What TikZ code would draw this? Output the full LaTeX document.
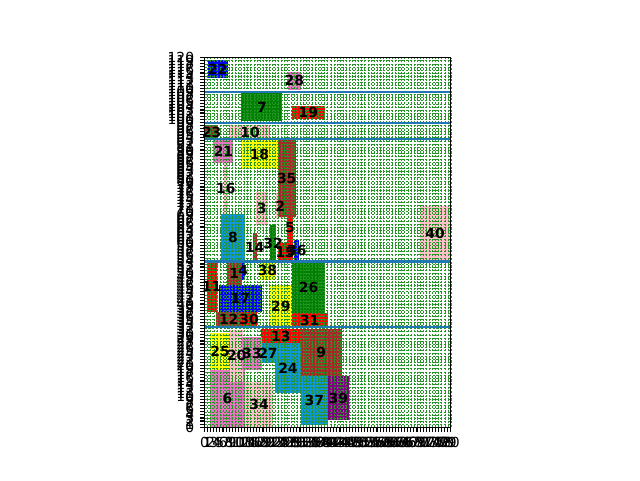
\documentclass[tikz,border=0pt]{standalone}
\usepackage{fontspec}
\setmainfont{DejaVu Sans}
\definecolor{hemelblauw}{RGB}{17,152,212}
\definecolor{roze}{HTML}{E377C2}
\definecolor{lichtroze}{HTML}{FFC0CB}
\definecolor{bruin}{HTML}{A52A2A}
\definecolor{groen}{HTML}{008000}
\definecolor{blauw}{HTML}{0000FF}
\definecolor{rood}{HTML}{FF0000}
\definecolor{geel}{HTML}{FFFF00}
\definecolor{paars}{HTML}{800080}
\definecolor{lijnblauw}{HTML}{1F77B4}
\tikzset{
  raster/.style={groen!85, line width=0.45pt, dash pattern=on 2.2pt off 1.6pt},
  niveau/.style={lijnblauw, line width=2.1pt},
  nummer/.style={font=\bfseries\fontsize{13.9}{14}\selectfont, inner sep=0pt},
  tekje/.style={line width=1.1pt},
  asgetal/.style={font=\fontsize{13.9}{14}\selectfont, inner sep=0pt}
}
% blokken: x1/y1/x2/y2/kleur/nummer
\def\blokken{1.8/0/13.1/18.6/roze/6, 13.1/0/22.3/14.8/lichtroze/34,
  31.3/0.7/40/16.7/hemelblauw/37, 40/2.3/46.9/16.7/paars/39,
  31.3/16.7/44.5/31.9/bruin/9, 22.9/11/31.3/27.2/hemelblauw/24,
  18.3/20.7/22.9/27.2/hemelblauw/27, 18.3/27.2/31.3/32/rood/13,
  1.8/18.6/8.3/30.7/geel/25, 8.3/14.8/12.6/31.6/lichtroze/20,
  12.1/18.6/18.6/29.4/roze/33,
  3.6/32.4/12.1/37.5/bruin/12, 12.1/32.4/16.9/37.5/rood/30,
  28.3/32.4/40/37/rood/31, 21.3/32.4/28.3/46.2/geel/29,
  4.7/37.5/18.6/46.2/blauw/17, 0.7/37.5/4/53.7/rood/11,
  7.2/46.2/12.1/53.7/bruin/1, 12.1/47.8/13.1/53.7/blauw/4,
  18/47.8/22.9/53.7/geel/38, 28.5/37/39.1/53.7/groen/26,
  5.4/53.7/13.1/69.2/hemelblauw/8, 6.4/69.2/7.5/85.7/lichtroze/16,
  15.6/53.7/17/63/bruin/14, 16.7/65.6/20.5/76.5/lichtroze/3,
  21.3/53.7/23.2/65.6/groen/32, 23.2/67.8/25.9/75.9/lichtroze/2,
  23.8/53.7/28.6/59.7/rood/15, 26.9/59.7/28.6/70.2/rood/5,
  29.2/53.7/30.7/60.8/blauw/36, 23.8/68.3/29.6/93.2/bruin/35,
  11.9/83.8/23.8/93.2/geel/18, 2.9/85.7/9.4/93.2/roze/21,
  70/53.7/79.7/71.8/lichtroze/40,
  0.2/93.5/4.5/98.1/bruin/23, 8.3/93.5/21.3/98.1/lichtroze/10,
  12/99.5/25.3/108.4/groen/7, 28.3/100/39.1/104.4/rood/19,
  1/113.3/7.5/119.2/blauw/22, 27/109.5/31.3/115.4/roze/28}
\begin{document}
\begin{tikzpicture}[x=1pt,y=1pt]
  \useasboundingbox (0,0) rectangle (640,480);
  \begin{scope}[shift={(204.5pt,52.8pt)}, x=3.08pt, y=3.08pt]
    % Blokken
    \foreach \xa/\ya/\xb/\yb/\kl/\nr in \blokken {
      \fill[\kl] (\xa,\ya) rectangle (\xb,\yb);
    }
    % Raster
    \foreach \i in {0,...,80} \draw[raster] (\i,0) -- (\i,120);
    \foreach \j in {0,...,120} \draw[raster] (0,\j) -- (80,\j);
    % Niveaus
    \foreach \h in {32.4,53.8,93.5,98.9,108.7}
      \draw[niveau] (0,\h) -- (80,\h);
    % Nummers
    \foreach \xa/\ya/\xb/\yb/\kl/\nr in \blokken {
      \node[nummer] (b\nr) at ({(\xa+\xb)/2},{(\ya+\yb)/2}) {\nr};
    }
    % Assen
    \draw[tekje] (0,0) rectangle (80,120);
    \foreach \i in {0,...,80}
      \draw[tekje] (\i,0) -- ++(0,-4.9pt) node[asgetal, below=4.9pt] (tx\i) {\i};
    \foreach \j in {0,...,120}
      \draw[tekje] (0,\j) -- ++(-4.9pt,0) node[asgetal, left=4.9pt] (ty\j) {\j};
  \end{scope}
\end{tikzpicture}
\end{document}
